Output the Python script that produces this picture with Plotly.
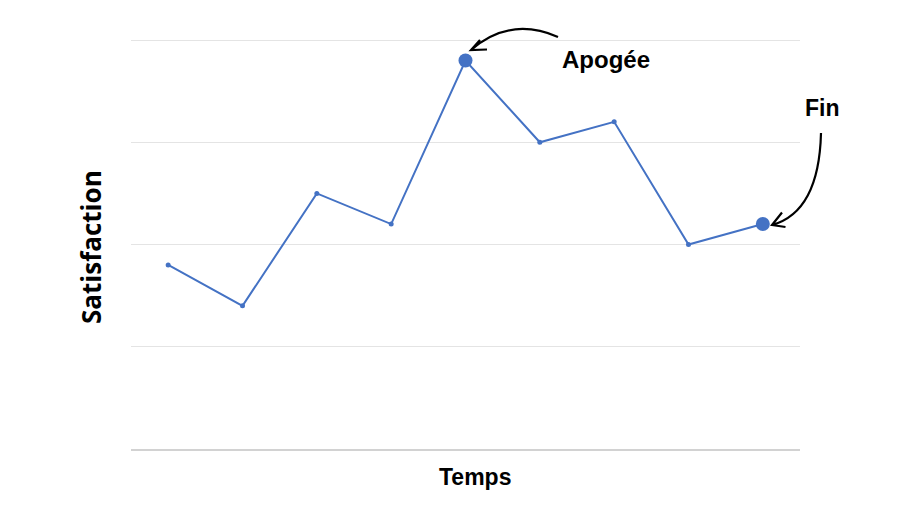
import plotly.graph_objects as go

# Data
periods = list(range(9))
satisfaction = [1.8, 1.4, 2.5, 2.2, 3.8, 3.0, 3.2, 2.0, 2.2]
marker_sizes = [5, 5, 5, 5, 14, 5, 5, 5, 14]
y_ticks = [0, 1, 2, 3, 4]

# The page body has an 8px default margin: figure is sized to fit the window
OFF = 8
W, H = 910 - 2 * OFF, 508 - 2 * OFF
PL, PR, PT, PB = 131, 800, 39, 449          # plot area in window pixels
L, T = PL - OFF, PT - OFF
R = W - (PR - OFF)
B = H - (PB - OFF)
pw, ph = PR - PL, PB - PT

def px(x, y):
    """window pixel -> paper coordinates (for decorations only)"""
    return (x - PL) / pw, (PB - y) / ph

def curve_arrow(p0, c, p2, w1, w2):
    a = px(*p0); b = px(*c); d = px(*p2); e = px(*w1); f = px(*w2)
    return (f"M {a[0]},{a[1]} Q {b[0]},{b[1]} {d[0]},{d[1]} "
            f"M {e[0]},{e[1]} L {d[0]},{d[1]} L {f[0]},{f[1]}")

fig = go.Figure()
fig.add_trace(go.Scatter(
    x=periods, y=satisfaction, mode="lines+markers",
    line=dict(color="#4472C4", width=2),
    marker=dict(color="#4472C4", size=marker_sizes, opacity=1,
                line=dict(width=0)),
    hoverinfo="skip", showlegend=False,
))

fig.update_layout(
    width=W, height=H,
    margin=dict(l=L, r=R, t=T, b=B),
    paper_bgcolor="white", plot_bgcolor="white",
    xaxis=dict(range=[-0.5, 8.5], showgrid=False, zeroline=False,
               showticklabels=False, ticks="", showline=True,
               linecolor="#d2d2d2", linewidth=1.5),
    yaxis=dict(range=[0, 4.01], tickvals=y_ticks, showgrid=True,
               gridcolor="#e4e4e4", gridwidth=1, zeroline=False,
               showticklabels=False, ticks="", showline=False),
    shapes=[
        dict(type="path", xref="paper", yref="paper",
             path=curve_arrow((558, 37), (510, 16), (471, 50), (480, 40), (487, 49.5)),
             line=dict(color="black", width=2.2)),
        dict(type="path", xref="paper", yref="paper",
             path=curve_arrow((821, 133), (819, 212), (772, 225), (782, 212.5), (785.5, 227)),
             line=dict(color="black", width=2.2)),
    ],
)

def ann(text, x, y, size, family="Liberation Sans, Arial, sans-serif", **kw):
    xp, yp = px(x, y)
    fig.add_annotation(text=text, x=xp, y=yp, xref="paper", yref="paper",
                       showarrow=False, xanchor="center", yanchor="middle",
                       font=dict(family=family, size=size, color="black"), **kw)

ann("<b>Apogée</b>", 605.5, 59, 24)
ann("<b>Fin</b>", 822, 108, 23)
ann("<b>Temps</b>", 475, 477, 23)
ann("<b>Satisfaction</b>", 91, 247, 26, family="Open Sans, sans-serif", textangle=-90)

fig.write_html("out.html")
